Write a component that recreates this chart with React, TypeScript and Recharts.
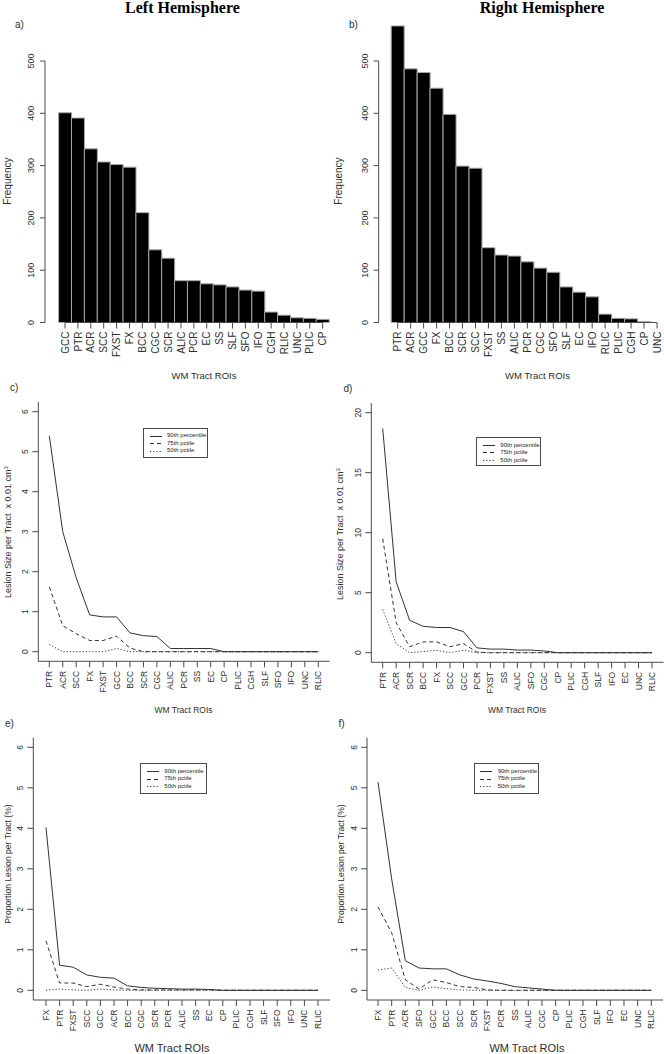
import React from 'react';
import { BarChart, Bar, LineChart, Line, XAxis, YAxis, Legend, ReferenceLine } from 'recharts';

// ---------- DATA ----------
const leftTracts = ['GCC', 'PTR', 'ACR', 'SCC', 'FXST', 'FX', 'BCC', 'CGC', 'SCR', 'ALIC', 'PCR', 'EC', 'SS', 'SLF', 'SFO', 'IFO', 'CGH', 'RLIC', 'UNC', 'PLIC', 'CP'];
const leftFreq = [401, 391, 332, 307, 302, 297, 210, 139, 123, 80, 80, 74, 72, 68, 62, 60, 20, 14, 9, 8, 6];

const rightTracts = ['PTR', 'ACR', 'GCC', 'FX', 'BCC', 'SCR', 'SCC', 'FXST', 'SS', 'ALIC', 'PCR', 'CGC', 'SFO', 'SLF', 'EC', 'IFO', 'RLIC', 'PLIC', 'CGH', 'CP', 'UNC'];
const rightFreq = [567, 485, 478, 448, 398, 299, 295, 143, 129, 127, 116, 104, 96, 68, 58, 49, 16, 8, 7, 2, 0];

const freqTicks = [0, 100, 200, 300, 400, 500];

const cTracts = ['PTR', 'ACR', 'SCC', 'FX', 'FXST', 'GCC', 'BCC', 'SCR', 'CGC', 'ALIC', 'PCR', 'SS', 'EC', 'CP', 'PLIC', 'CGH', 'SLF', 'SFO', 'IFO', 'UNC', 'RLIC'];
const c90 = [5.4, 3.0, 1.85, 0.92, 0.87, 0.87, 0.47, 0.4, 0.38, 0.08, 0.08, 0.08, 0.08, 0, 0, 0, 0, 0, 0, 0, 0];
const c75 = [1.62, 0.65, 0.45, 0.28, 0.28, 0.39, 0.09, 0, 0, 0, 0, 0, 0, 0, 0, 0, 0, 0, 0, 0, 0];
const c50 = [0.18, 0, 0, 0, 0, 0.08, 0, 0, 0, 0, 0, 0, 0, 0, 0, 0, 0, 0, 0, 0, 0];

const dTracts = ['PTR', 'ACR', 'SCR', 'BCC', 'FX', 'SCC', 'GCC', 'PCR', 'FXST', 'SS', 'ALIC', 'SFO', 'CGC', 'CP', 'PLIC', 'CGH', 'SLF', 'IFO', 'EC', 'UNC', 'RLIC'];
const d90 = [18.7, 5.9, 2.7, 2.2, 2.1, 2.1, 1.75, 0.4, 0.3, 0.3, 0.22, 0.22, 0.14, 0, 0, 0, 0, 0, 0, 0, 0];
const d75 = [9.5, 2.5, 0.5, 0.9, 0.9, 0.5, 0.75, 0.05, 0, 0, 0, 0, 0, 0, 0, 0, 0, 0, 0, 0, 0];
const d50 = [3.6, 0.75, 0, 0.1, 0.2, 0, 0.2, 0, 0, 0, 0, 0, 0, 0, 0, 0, 0, 0, 0, 0, 0];

const eTracts = ['FX', 'PTR', 'FXST', 'SCC', 'GCC', 'ACR', 'BCC', 'CGC', 'SCR', 'PCR', 'ALIC', 'SS', 'EC', 'CP', 'PLIC', 'CGH', 'SLF', 'SFO', 'IFO', 'UNC', 'RLIC'];
const e90 = [4.02, 0.62, 0.57, 0.38, 0.32, 0.3, 0.11, 0.07, 0.05, 0.04, 0.03, 0.03, 0.02, 0, 0, 0, 0, 0, 0, 0, 0];
const e75 = [1.22, 0.18, 0.18, 0.09, 0.15, 0.08, 0.03, 0.01, 0.01, 0.01, 0.01, 0.01, 0.01, 0, 0, 0, 0, 0, 0, 0, 0];
const e50 = [0, 0.03, 0.01, 0, 0.03, 0.01, 0, 0, 0, 0, 0, 0, 0, 0, 0, 0, 0, 0, 0, 0, 0];

const fTracts = ['FX', 'PTR', 'ACR', 'SFO', 'GCC', 'BCC', 'SCC', 'SCR', 'FXST', 'PCR', 'SS', 'ALIC', 'CGC', 'CP', 'PLIC', 'CGH', 'SLF', 'IFO', 'EC', 'UNC', 'RLIC'];
const f90 = [5.14, 2.75, 0.73, 0.55, 0.53, 0.53, 0.38, 0.28, 0.23, 0.17, 0.09, 0.06, 0.03, 0, 0, 0, 0, 0, 0, 0, 0];
const f75 = [2.06, 1.42, 0.26, 0.03, 0.26, 0.19, 0.09, 0.07, 0.01, 0, 0, 0, 0, 0, 0, 0, 0, 0, 0, 0, 0];
const f50 = [0.5, 0.55, 0.07, 0, 0.08, 0.04, 0.01, 0, 0, 0, 0, 0, 0, 0, 0, 0, 0, 0, 0, 0, 0];

const ticks6 = [0, 1, 2, 3, 4, 5, 6];
const ticks20 = [0, 5, 10, 15, 20];
const seriesNames = ['90th percentile', '75th pctile', '50th pctile'];

// ---------- STYLE ----------
const FONT = '"Liberation Sans", Arial, Helvetica, sans-serif';
const SERIF = '"Liberation Serif", "Times New Roman", serif';
const AX = '#4a4a4a';
const TXT = '#2e2e2e';
const LINE = '#333';

const SERIES = [
  { key: 'p90', name: seriesNames[0], dash: undefined as string | undefined },
  { key: 'p75', name: seriesNames[1], dash: '4 3' },
  { key: 'p50', name: seriesNames[2], dash: '1.2 2' },
];

const toRows = (cats: string[], a: number[], b: number[], c: number[]) =>
  cats.map((t, i) => ({ tract: t, p90: a[i], p75: b[i], p50: c[i] }));

const makeXTick = (fs: number) => (props: any) => {
  const { x, y, payload } = props;
  return (
    <g transform={`translate(${x},${y})`}>
      <text transform="rotate(-90)" textAnchor="end" dy="0.36em" fontSize={fs} fontFamily={FONT} fill={TXT}>
        {payload.value}
      </text>
    </g>
  );
};

const makeYTick = (fs: number) => (props: any) => {
  const { x, y, payload } = props;
  return (
    <g transform={`translate(${x},${y})`}>
      <text transform="rotate(-90)" textAnchor="middle" fontSize={fs} fontFamily={FONT} fill={TXT}>
        {payload.value}
      </text>
    </g>
  );
};

// ---------- BAR PANELS ----------
type BarCfg = { left: number; yWidth: number; padLeft: number; marginRight: number };

function FreqPanel({ cats, vals, cfg }: { cats: string[]; vals: number[]; cfg: BarCfg }) {
  const data = cats.map((t, i) => ({ tract: t, freq: vals[i] }));
  const H = 360;
  const top = 8.7;
  const xH = 37.5;
  const plotH = H - top - xH;
  const ppu = plotH / 600;
  const gap = 100 * ppu;
  const len = 500 * ppu;
  return (
    <div style={{ position: 'absolute', left: cfg.left, top: 0 }}>
      <BarChart width={332} height={H} data={data} margin={{ top, right: cfg.marginRight, bottom: 0, left: 0 }} barCategoryGap={0}>
        <XAxis
          dataKey="tract"
          interval={0}
          height={xH}
          padding={{ left: cfg.padLeft, right: 0 }}
          axisLine={false}
          tickLine={{ stroke: AX }}
          tickSize={6}
          tickMargin={3}
          tick={makeXTick(10)}
        />
        <YAxis
          width={cfg.yWidth}
          domain={[0, 600]}
          ticks={freqTicks}
          tickSize={5}
          tickMargin={5.7}
          axisLine={{ stroke: AX, strokeDasharray: `0 ${gap} ${len} 3000` }}
          tickLine={{ stroke: AX }}
          tick={makeYTick(9)}
        />
        <Bar dataKey="freq" fill="#000" stroke="#a8a8a8" strokeWidth={1} isAnimationActive={false} />
        <ReferenceLine
          segment={[{ x: cats[0], y: 0 }, { x: cats[cats.length - 1], y: 0 }]}
          stroke={AX}
          ifOverflow="visible"
        />
      </BarChart>
    </div>
  );
}

// ---------- LINE PANELS ----------
type LineCfg = {
  left: number; top: number; width: number; height: number;
  mTop: number; mRight: number; yWidth: number; xHeight: number;
  padL: number; padR: number; padT: number; padB: number;
  yMax: number; ticks: number[];
  lg: { left: number; top: number; w: number; h: number };
};

const legendContent = (w: number, h: number) => () => (
  <div
    style={{
      width: w, height: h, boxSizing: 'border-box', border: `1px solid ${AX}`, background: '#fff',
      padding: '3.6px 0 0 5.5px', fontFamily: FONT,
    }}
  >
    {SERIES.map((s) => (
      <div key={s.key} style={{ height: 7.6, display: 'flex', alignItems: 'center' }}>
        <svg width={12} height={3} style={{ display: 'block' }}>
          <line x1={0} x2={12} y1={1.5} y2={1.5} stroke={LINE} strokeWidth={1} strokeDasharray={s.dash} />
        </svg>
        <span style={{ fontSize: 6, marginLeft: 5.5, color: '#222', lineHeight: '7.6px', whiteSpace: 'nowrap' }}>{s.name}</span>
      </div>
    ))}
  </div>
);

function PctPanel({ rows, cfg }: { rows: any[]; cfg: LineCfg }) {
  return (
    <div style={{ position: 'absolute', left: cfg.left, top: cfg.top }}>
      <LineChart width={cfg.width} height={cfg.height} data={rows} margin={{ top: cfg.mTop, right: cfg.mRight, bottom: 0, left: 0 }}>
        <XAxis
          dataKey="tract"
          type="category"
          scale="point"
          interval={0}
          height={cfg.xHeight}
          padding={{ left: cfg.padL, right: cfg.padR }}
          axisLine={{ stroke: AX }}
          tickLine={{ stroke: AX }}
          tickSize={6}
          tickMargin={3.5}
          tick={makeXTick(8.5)}
        />
        <YAxis
          width={cfg.yWidth}
          domain={[0, cfg.yMax]}
          ticks={cfg.ticks}
          padding={{ top: cfg.padT, bottom: cfg.padB }}
          axisLine={{ stroke: AX }}
          tickLine={{ stroke: AX }}
          tickSize={6}
          tickMargin={4.5}
          tick={makeYTick(8.5)}
        />
        {SERIES.map((s) => (
          <Line
            key={s.key}
            dataKey={s.key}
            name={s.name}
            type="linear"
            stroke={LINE}
            strokeWidth={1}
            strokeDasharray={s.dash}
            dot={false}
            activeDot={false}
            isAnimationActive={false}
          />
        ))}
        <Legend
          layout="vertical"
          align="center"
          verticalAlign="middle"
          width={cfg.lg.w}
          height={cfg.lg.h}
          wrapperStyle={{ left: cfg.lg.left, top: cfg.lg.top }}
          content={legendContent(cfg.lg.w, cfg.lg.h)}
        />
      </LineChart>
    </div>
  );
}

// ---------- OVERLAY TEXT ----------
const VText = ({ x, y, size, children }: { x: number; y: number; size: number; children: React.ReactNode }) => (
  <text
    transform={`translate(${x},${y}) rotate(-90)`}
    textAnchor="middle"
    fontSize={size}
    fontFamily={FONT}
    fill={TXT}
    style={{ whiteSpace: 'pre' }}
  >
    {children}
  </text>
);

const HText = ({ x, y, size, anchor = 'middle', children }: { x: number; y: number; size: number; anchor?: string; children: React.ReactNode }) => (
  <text x={x} y={y} textAnchor={anchor as any} fontSize={size} fontFamily={FONT} fill={TXT}>
    {children}
  </text>
);

export default function App() {
  const cfgC: LineCfg = {
    left: 0, top: 380, width: 332, height: 335, mTop: 22, mRight: 2.5, yWidth: 38.3, xHeight: 53.7,
    padL: 11, padR: 11.2, padT: 9.7, padB: 9.6, yMax: 6, ticks: ticks6,
    lg: { left: 143, top: 47.7, w: 65, h: 30.3 },
  };
  const cfgD: LineCfg = {
    left: 332, top: 380, width: 332, height: 335, mTop: 23.1, mRight: 0.5, yWidth: 39.3, xHeight: 52.7,
    padL: 11.4, padR: 11.5, padT: 9.6, padB: 9.6, yMax: 20, ticks: ticks20,
    lg: { left: 144.3, top: 57, w: 65, h: 29.3 },
  };
  const cfgE: LineCfg = {
    left: 0, top: 715, width: 332, height: 339, mTop: 22.6, mRight: 2, yWidth: 33.3, xHeight: 54,
    padL: 12.7, padR: 12, padT: 9.7, padB: 9.7, yMax: 6, ticks: ticks6,
    lg: { left: 140.3, top: 48.3, w: 66.4, h: 31 },
  };
  const cfgF: LineCfg = {
    left: 332, top: 715, width: 332, height: 339, mTop: 22.6, mRight: 1, yWidth: 35, xHeight: 54,
    padL: 11, padR: 11.7, padT: 9.7, padB: 9.7, yMax: 6, ticks: ticks6,
    lg: { left: 141.7, top: 48.3, w: 65.6, h: 31 },
  };

  return (
    <div style={{ position: 'absolute', left: 0, top: 0, width: 664, height: 1054, background: '#fff', overflow: 'hidden' }}>
      <FreqPanel cats={leftTracts} vals={leftFreq} cfg={{ left: 0, yWidth: 45, padLeft: 13.6, marginRight: 2.9 }} />
      <FreqPanel cats={rightTracts} vals={rightFreq} cfg={{ left: 332, yWidth: 46.7, padLeft: 12.5, marginRight: 0.5 }} />
      <PctPanel rows={toRows(cTracts, c90, c75, c50)} cfg={cfgC} />
      <PctPanel rows={toRows(dTracts, d90, d75, d50)} cfg={cfgD} />
      <PctPanel rows={toRows(eTracts, e90, e75, e50)} cfg={cfgE} />
      <PctPanel rows={toRows(fTracts, f90, f75, f50)} cfg={cfgF} />

      <svg width={664} height={1054} style={{ position: 'absolute', left: 0, top: 0, pointerEvents: 'none' }}>
        <text x={182.5} y={13} textAnchor="middle" fontSize={16} fontWeight="bold" fontFamily={SERIF} fill="#000">Left Hemisphere</text>
        <text x={542} y={13} textAnchor="middle" fontSize={16} fontWeight="bold" fontFamily={SERIF} fill="#000">Right Hemisphere</text>

        <HText x={15} y={27.5} size={10} anchor="start">a)</HText>
        <HText x={349} y={27.5} size={10} anchor="start">b)</HText>
        <VText x={10.5} y={181} size={10}>Frequency</VText>
        <VText x={342} y={181} size={10}>Frequency</VText>
        <HText x={204} y={378.5} size={9.5}>WM Tract ROIs</HText>
        <HText x={537.5} y={378.5} size={9.5}>WM Tract ROIs</HText>

        <HText x={10} y={391} size={10} anchor="start">c)</HText>
        <HText x={343.5} y={392} size={10} anchor="start">d)</HText>
        <VText x={11} y={532} size={9}>
          {'Lesion Size per Tract  x 0.01 cm'}
          <tspan dy={-3} fontSize={6}>3</tspan>
        </VText>
        <VText x={343} y={534} size={9}>
          {'Lesion Size per Tract  x 0.01 cm'}
          <tspan dy={-3} fontSize={6}>3</tspan>
        </VText>
        <HText x={183.5} y={713} size={8.5}>WM Tract ROIs</HText>
        <HText x={517} y={713} size={8.5}>WM Tract ROIs</HText>

        <HText x={5} y={726.5} size={10} anchor="start">e)</HText>
        <HText x={338.5} y={726.5} size={10} anchor="start">f)</HText>
        <VText x={11} y={864} size={8.6}>Proportion Lesion per Tract (%)</VText>
        <VText x={344} y={864} size={8.6}>Proportion Lesion per Tract (%)</VText>
        <HText x={172} y={1052} size={11}>WM Tract ROIs</HText>
        <HText x={527} y={1052} size={11}>WM Tract ROIs</HText>
      </svg>
    </div>
  );
}
